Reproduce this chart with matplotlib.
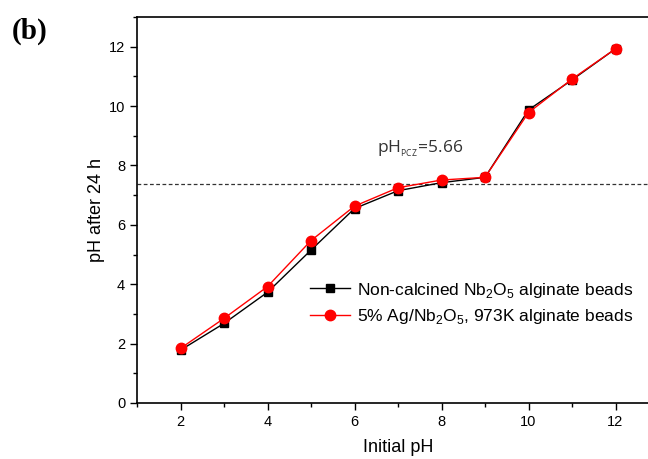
import numpy as np
import matplotlib
matplotlib.use("Agg")
import matplotlib.pyplot as plt
from matplotlib.ticker import MultipleLocator

plt.rcParams['font.family'] = ['Liberation Sans', 'DejaVu Sans']
plt.rcParams['mathtext.fontset'] = 'custom'
plt.rcParams['mathtext.rm'] = 'Liberation Sans'
plt.rcParams['mathtext.sf'] = 'Open Sans'

# pH measurements before / after 24 h
initial_ph = [2, 3, 4, 5, 6, 7, 8, 9, 10, 11, 12]
ph_noncalcined = [1.78, 2.68, 3.73, 5.15, 6.55, 7.15, 7.42, 7.60, 9.87, 10.88, 11.93]
ph_ag_973k = [1.84, 2.85, 3.92, 5.47, 6.63, 7.25, 7.51, 7.60, 9.78, 10.91, 11.93]
pzc_line = 7.36

label_black = r'Non-calcined Nb$_2$O$_5$ alginate beads'
label_red = r'5% Ag/Nb$_2$O$_5$, 973K alginate beads'

fig = plt.figure(figsize=(6.48, 4.59), dpi=100)
ax = fig.add_axes([137/648, 56/459, 522/648, 386/459])

ax.axhline(pzc_line, color='#333333', lw=0.9, ls=(0, (3, 2)), zorder=1)
ax.plot(initial_ph, ph_noncalcined, color='black', lw=1.0, marker='s',
        ms=6, label=label_black, zorder=3)
ax.plot(initial_ph, ph_ag_973k, color='#ff0000', lw=1.0, marker='o',
        ms=7.5, label=label_red, zorder=4)

ax.text(6.52, 8.45, r'$\mathsf{pH_{_{PCZ}}\!=\!5.66}$', fontsize=12.5,
        color='#333333', va='baseline', ha='left')

ax.set_xlim(1, 13)
ax.set_ylim(0, 13)
ax.xaxis.set_major_locator(MultipleLocator(2))
ax.xaxis.set_minor_locator(MultipleLocator(1))
ax.yaxis.set_major_locator(MultipleLocator(2))
ax.yaxis.set_minor_locator(MultipleLocator(1))
ax.tick_params(which='both', direction='out', width=1.0, labelsize=10.5)
ax.tick_params(which='major', length=5)
ax.tick_params(which='minor', length=3)
for s in ax.spines.values():
    s.set_linewidth(1.2)

ax.set_xlabel('Initial pH', fontsize=13, labelpad=7)
ax.set_ylabel('pH after 24 h', fontsize=13, labelpad=3)

ax.legend(loc='center left', bbox_to_anchor=(0.331, 0.258), frameon=False,
          fontsize=12.5, handlelength=2.3, handletextpad=0.4,
          borderpad=0, borderaxespad=0, labelspacing=0.45)

fig.text(12/648, 1 - 31/459, '(b)', fontsize=21, fontweight='bold',
         family='Liberation Serif', va='center', ha='left')

fig.savefig('out.png', dpi=100)
